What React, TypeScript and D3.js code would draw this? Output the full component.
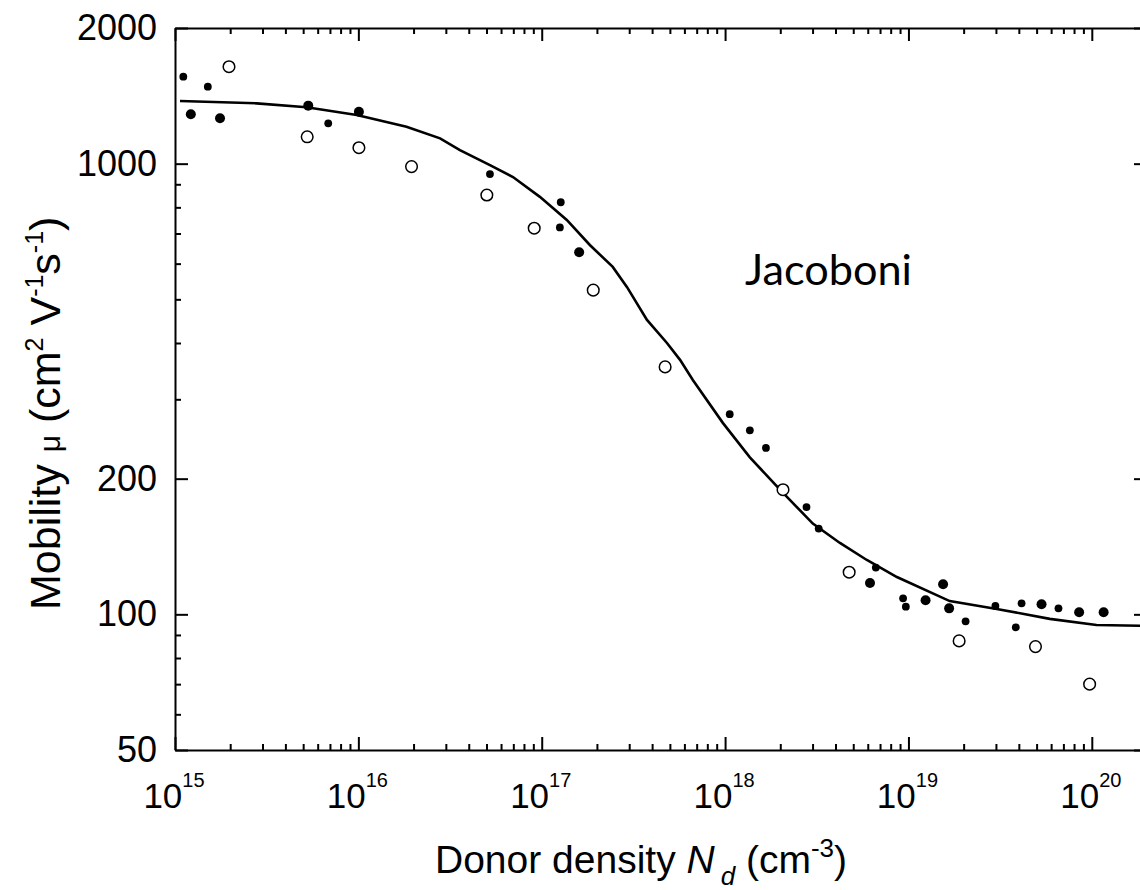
import { useEffect, useRef } from 'react';
import * as d3 from 'd3';

// fitted curve
const fitDensity = [
  1.065e15, 2.79e15, 5.22e15, 9.8e15, 1.83e16, 2.79e16, 3.58e16, 5.22e16, 6.97e16, 9.77e16,
  1.37e17, 1.83e17, 2.44e17, 2.92e17, 3.75e17, 4.82e17, 5.68e17, 6.67e17, 9.72e17, 1.365e18,
  2.07e18, 3.01e18, 4.23e18, 5.93e18, 8.65e18, 1.68e19, 3.03e19, 5.9e19, 1.06e20, 2e20,
];
const fitMobility = [
  1377, 1361, 1334, 1282, 1208, 1138, 1072, 993, 934, 844,
  750, 660, 590, 532, 450, 400, 367, 331, 266, 223,
  186, 159, 144, 132, 121, 107, 102.8, 97.7, 94.7, 94.3,
];

// filled symbols (small)
const smallDensity = [
  1.11e15, 1.51e15, 6.85e15, 5.22e16, 1.27e17, 1.256e17, 1.06e18, 1.365e18, 1.67e18, 2.78e18,
  3.24e18, 6.64e18, 9.35e18, 9.68e18, 2.05e19, 2.98e19, 3.85e19, 4.14e19, 6.58e19,
];
const smallMobility = [
  1560, 1482, 1229, 948, 821, 722, 278, 256, 234, 173,
  155, 127, 108.5, 104, 96.5, 104.4, 93.6, 105.8, 103.1,
];

// filled symbols (large)
const largeDensity = [
  1.22e15, 1.76e15, 5.33e15, 1.007e16, 1.6e17, 6.17e18, 1.24e19, 1.545e19, 1.667e19, 5.32e19,
  8.53e19, 1.16e20,
];
const largeMobility = [1287, 1261, 1345, 1304, 636, 117.4, 107.5, 116.6, 103.1, 105.3, 101.1, 101.1];

// open symbols
const openDensity = [
  1.97e15, 5.26e15, 1.007e16, 1.95e16, 5.02e16, 9.1e16, 1.91e17, 4.71e17, 2.07e18, 4.75e18,
  1.89e19, 4.93e19, 9.73e19,
];
const openMobility = [1641, 1147, 1085, 985, 852, 719, 524, 354, 189, 124, 87.3, 84.8, 70];

const xMajorTicks = [1e15, 1e16, 1e17, 1e18, 1e19, 1e20];
const xTickExponents = ['15', '16', '17', '18', '19', '20'];
const yMajorTicks = [50, 100, 200, 1000, 2000];
const yMinorTicks = [60, 70, 80, 90, 300, 400, 500, 600, 700, 800, 900];
const annotation = 'Jacoboni';

const App = () => {
  const svgRef = useRef<SVGSVGElement | null>(null);

  useEffect(() => {
    const svg = d3.select(svgRef.current);
    svg.selectAll('*').remove();

    const left = 175;
    const right = 1147;
    const top = 28;
    const bottom = 750;
    const font = '"Liberation Sans", Arial, sans-serif';

    const x = d3.scaleLog().domain([1e15, 2e20]).range([left, right]);
    const y = d3.scaleLog().domain([50, 2000]).range([bottom, top]);

    const xMinorTicks: number[] = [];
    xMajorTicks.forEach((d) => {
      for (let m = 2; m <= 9; m++) if (m * d < 2e20) xMinorTicks.push(m * d);
    });

    // frame + ticks (all pointing inward)
    const drawAxis = (axis: any, transform: string, withDomain: boolean) => {
      const g = svg
        .append('g')
        .attr('transform', transform)
        .attr('stroke-width', 2)
        .attr('color', '#000')
        .call(axis);
      g.selectAll('text').remove();
      if (!withDomain) g.select('.domain').remove();
    };
    const noLabel = () => '';

    drawAxis(d3.axisTop(x).tickValues(xMajorTicks).tickSize(13).tickSizeOuter(0).tickFormat(noLabel), `translate(0,${bottom})`, true);
    drawAxis(d3.axisTop(x).tickValues(xMinorTicks).tickSize(6).tickFormat(noLabel), `translate(0,${bottom})`, false);
    drawAxis(d3.axisBottom(x).tickValues(xMajorTicks).tickSize(13).tickSizeOuter(0).tickFormat(noLabel), `translate(0,${top})`, true);
    drawAxis(d3.axisBottom(x).tickValues(xMinorTicks).tickSize(6).tickFormat(noLabel), `translate(0,${top})`, false);
    drawAxis(d3.axisRight(y).tickValues(yMajorTicks).tickSize(13).tickSizeOuter(0).tickFormat(noLabel), `translate(${left},0)`, true);
    drawAxis(d3.axisRight(y).tickValues(yMinorTicks).tickSize(6).tickFormat(noLabel), `translate(${left},0)`, false);
    drawAxis(d3.axisLeft(y).tickValues(yMajorTicks).tickSize(13).tickSizeOuter(0).tickFormat(noLabel), `translate(${right},0)`, true);
    drawAxis(d3.axisLeft(y).tickValues(yMinorTicks).tickSize(6).tickFormat(noLabel), `translate(${right},0)`, false);

    // y tick labels
    svg
      .append('g')
      .attr('font-family', font)
      .attr('font-size', 36)
      .attr('text-anchor', 'end')
      .selectAll('text')
      .data(yMajorTicks)
      .join('text')
      .attr('x', 157)
      .attr('y', (d) => y(d) + 12)
      .text((d) => d);

    // x tick labels 10^n
    const xl = svg
      .append('g')
      .attr('font-family', font)
      .attr('text-anchor', 'middle')
      .selectAll('text')
      .data(xMajorTicks)
      .join('text')
      .attr('x', (d) => x(d) - 1)
      .attr('y', 808)
      .attr('font-size', 35);
    xl.append('tspan').text('10');
    xl.append('tspan')
      .attr('dy', -21)
      .attr('font-size', 20)
      .text((d, i) => xTickExponents[i]);

    // fitted line
    const line = d3
      .line<number>()
      .x((d) => x(d))
      .y((d, i) => y(fitMobility[i]));
    svg
      .append('path')
      .attr('d', line(fitDensity))
      .attr('fill', 'none')
      .attr('stroke', '#000')
      .attr('stroke-width', 2.6);

    // symbols
    svg
      .append('g')
      .selectAll('circle')
      .data(openDensity)
      .join('circle')
      .attr('cx', (d) => x(d))
      .attr('cy', (d, i) => y(openMobility[i]))
      .attr('r', 5.8)
      .attr('fill', '#fff')
      .attr('stroke', '#000')
      .attr('stroke-width', 1.5);
    svg
      .append('g')
      .selectAll('circle')
      .data(smallDensity)
      .join('circle')
      .attr('cx', (d) => x(d))
      .attr('cy', (d, i) => y(smallMobility[i]))
      .attr('r', 3.9)
      .attr('fill', '#000');
    svg
      .append('g')
      .selectAll('circle')
      .data(largeDensity)
      .join('circle')
      .attr('cx', (d) => x(d))
      .attr('cy', (d, i) => y(largeMobility[i]))
      .attr('r', 5)
      .attr('fill', '#000');

    // x axis title
    const xt = svg
      .append('text')
      .attr('x', 435)
      .attr('y', 873)
      .attr('font-family', font)
      .attr('font-size', 39);
    xt.append('tspan').text('Donor density ');
    xt.append('tspan').attr('font-style', 'italic').text('N');
    xt.append('tspan').attr('font-style', 'italic').attr('font-size', 26).attr('dx', 6).attr('dy', 12).text('d');
    xt.append('tspan').attr('dy', -12).text(' (cm');
    xt.append('tspan').attr('font-size', 26).attr('dy', -16).text('-3');
    xt.append('tspan').attr('dy', 16).text(')');

    // y axis title
    const yt = svg
      .append('text')
      .attr('transform', 'translate(60,610) rotate(-90)')
      .attr('font-family', font)
      .attr('font-size', 43);
    yt.append('tspan').text('Mobility ');
    yt.append('tspan').attr('font-size', 30).text('μ');
    yt.append('tspan').text(' (cm');
    yt.append('tspan').attr('font-size', 25).attr('dy', -17).text('2');
    yt.append('tspan').attr('dy', 17).text(' V');
    yt.append('tspan').attr('font-size', 25).attr('dy', -17).text('-1');
    yt.append('tspan').attr('dy', 17).text('s');
    yt.append('tspan').attr('font-size', 25).attr('dy', -17).text('-1');
    yt.append('tspan').attr('dy', 17).text(')');

    // annotation
    svg
      .append('text')
      .attr('x', 745)
      .attr('y', 285)
      .attr('font-family', 'Lato, "Open Sans", sans-serif')
      .attr('font-size', 42)
      .attr('textLength', 167)
      .attr('lengthAdjust', 'spacingAndGlyphs')
      .text(annotation);
  }, []);

  return (
    <svg
      ref={svgRef}
      width={1140}
      height={890}
      style={{ position: 'absolute', left: 0, top: 0, background: '#fff' }}
    />
  );
};

export default App;
